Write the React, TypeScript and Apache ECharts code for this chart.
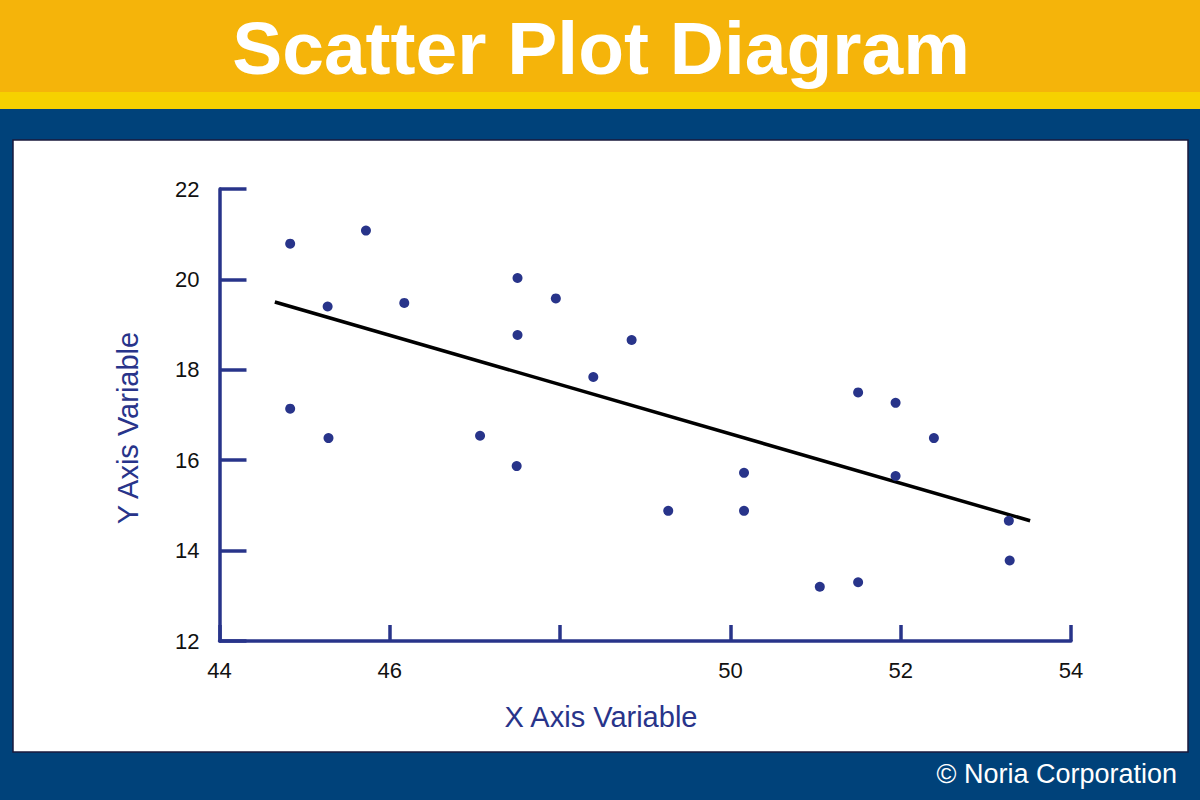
import React, { useEffect, useRef } from "react";
import * as echarts from "echarts";

const titleText = "Scatter Plot Diagram";
const footerText = "© Noria Corporation";
const xAxisTitle = "X Axis Variable";
const yAxisTitle = "Y Axis Variable";

const xTicks = [44, 46, 48, 50, 52, 54];
const hiddenXLabels = [48];

const xValues = [
  44.83, 45.72, 45.27, 46.17, 44.83, 45.28, 47.5, 47.95, 47.5, 48.84, 48.39, 47.06,
  47.49, 49.27, 50.16, 50.16, 51.5, 51.94, 52.39, 51.94, 53.27, 53.28, 51.05, 51.5,
];
const yValues = [
  20.79, 21.08, 19.4, 19.48, 17.14, 16.49, 20.03, 19.58, 18.77, 18.66, 17.84, 16.54,
  15.87, 14.88, 15.72, 14.88, 17.5, 17.27, 16.49, 15.65, 14.66, 13.78, 13.2, 13.3,
];
const trendX = [44.65, 53.52];
const trendY = [19.5, 14.66];

const NAVY = "#00427A";
const INK = "#28348A";
const FONT = "'Liberation Sans', Arial, Helvetica, sans-serif";

export default function App() {
  const ref = useRef<HTMLDivElement>(null);

  useEffect(() => {
    if (!ref.current) return;
    const chart = echarts.init(ref.current, undefined, { renderer: "svg" });
    const points = xValues.map((x, i) => [x, yValues[i]]);
    const trend = trendX.map((x, i) => [x, trendY[i]]);

    chart.setOption({
      animation: false,
      backgroundColor: NAVY,
      grid: { left: 219.5, right: 129, top: 189, bottom: 159, containLabel: false },
      graphic: [
        { type: "rect", z: -10, shape: { x: 0, y: 0, width: 1200, height: 92 }, style: { fill: "#F5B40A" } },
        { type: "rect", z: -10, shape: { x: 0, y: 92, width: 1200, height: 17 }, style: { fill: "#F6D100" } },
        {
          type: "rect",
          z: -10,
          shape: { x: 13, y: 140, width: 1175, height: 612 },
          style: { fill: "#FFFFFF", stroke: "#1A1A3C", lineWidth: 1.5 },
        },
        {
          type: "text",
          x: 601,
          y: 48,
          style: {
            text: titleText,
            fill: "#FFFFFF",
            font: `bold 75px ${FONT}`,
            textAlign: "center",
            textVerticalAlign: "middle",
          },
        },
        {
          type: "text",
          x: 1177,
          y: 774,
          style: {
            text: footerText,
            fill: "#FFFFFF",
            font: `27px ${FONT}`,
            textAlign: "right",
            textVerticalAlign: "middle",
          },
        },
        {
          type: "text",
          x: 601,
          y: 717,
          style: {
            text: xAxisTitle,
            fill: INK,
            font: `29px ${FONT}`,
            textAlign: "center",
            textVerticalAlign: "middle",
          },
        },
        {
          type: "text",
          x: 128,
          y: 428,
          rotation: Math.PI / 2,
          style: {
            text: yAxisTitle,
            fill: INK,
            font: `29px ${FONT}`,
            textAlign: "center",
            textVerticalAlign: "middle",
          },
        },
      ],
      xAxis: {
        type: "value",
        min: xTicks[0],
        max: xTicks[xTicks.length - 1],
        interval: 2,
        splitLine: { show: false },
        axisLine: { show: true, lineStyle: { color: INK, width: 3.5 } },
        axisTick: { show: true, inside: true, length: 16, lineStyle: { color: INK, width: 3.5 } },
        axisLabel: {
          color: "#111111",
          fontSize: 22,
          fontFamily: FONT,
          margin: 18,
          formatter: (v: number) => (hiddenXLabels.includes(v) ? "" : String(v)),
        },
      },
      yAxis: {
        type: "value",
        min: 12,
        max: 22,
        interval: 2,
        splitLine: { show: false },
        axisLine: { show: true, lineStyle: { color: INK, width: 3.5 } },
        axisTick: { show: true, inside: true, length: 27, lineStyle: { color: INK, width: 3.5 } },
        axisLabel: {
          color: "#111111",
          fontSize: 22,
          fontFamily: FONT,
          margin: 20,
          verticalAlign: "middle",
        },
      },
      series: [
        {
          type: "line",
          data: trend,
          symbol: "none",
          lineStyle: { color: "#000000", width: 3.5 },
          z: 3,
        },
        {
          type: "scatter",
          data: points,
          symbol: "circle",
          symbolSize: 10,
          itemStyle: { color: INK, opacity: 1 },
          z: 4,
        },
      ],
    });

    return () => chart.dispose();
  }, []);

  return (
    <div
      ref={ref}
      style={{ position: "fixed", left: 0, top: 0, width: 1200, height: 800 }}
    />
  );
}
